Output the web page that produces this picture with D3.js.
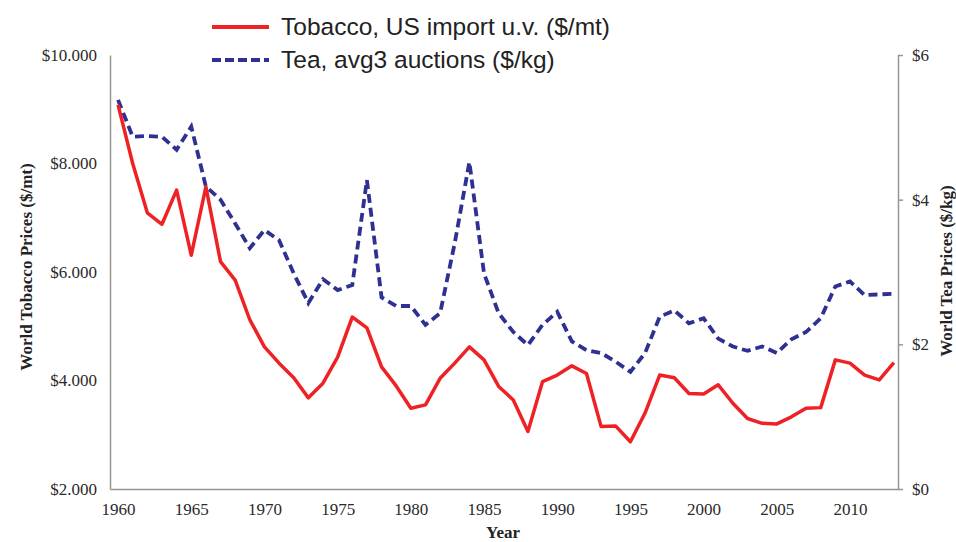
<!DOCTYPE html>
<html lang="en">
<head>
<meta charset="UTF-8">
<title>World Tobacco and Tea Prices</title>
<style>
  body { margin: 0; background: #fff; }
  .axis text { font-family: "Liberation Serif", "Times New Roman", serif; font-size: 17px; fill: #2a2a2a; }
  .axis path, .axis line { stroke: #9b9591; stroke-width: 1.5; fill: none; }
  .title { font-family: "Liberation Serif", "Times New Roman", serif; font-weight: bold; font-size: 17px; fill: #222; }
  .legend text { font-family: "Liberation Sans", Arial, sans-serif; font-size: 24.5px; fill: #222; }
</style>
<script src="https://cdn.jsdelivr.net/npm/d3@7"></script>
</head>
<body>
<script>
// years 1960..2013
var years = d3.range(1960, 2014);

// Tobacco, US import unit value ($/mt)
var tobacco = [9080, 8000, 7090, 6880, 7510, 6310, 7570, 6190, 5850, 5120,
               4620, 4320, 4050, 3680, 3950, 4430, 5170, 4970, 4250, 3900,
               3490, 3550, 4040, 4320, 4620, 4380, 3890, 3640, 3060, 3980,
               4100, 4270, 4130, 3150, 3160, 2870, 3400, 4100, 4050, 3760,
               3750, 3920, 3580, 3300, 3210, 3200, 3330, 3490, 3500, 4380,
               4320, 4100, 4010, 4330];

// Tea, average of 3 auctions ($/kg)
var tea = [5.38, 4.87, 4.88, 4.87, 4.69, 5.01, 4.18, 4.00, 3.67, 3.33,
           3.58, 3.44, 2.98, 2.57, 2.90, 2.75, 2.82, 4.27, 2.65, 2.53,
           2.53, 2.27, 2.43, 3.40, 4.52, 2.98, 2.43, 2.17, 1.99, 2.27,
           2.45, 2.04, 1.92, 1.88, 1.76, 1.62, 1.88, 2.38, 2.47, 2.29,
           2.36, 2.08, 1.97, 1.91, 1.97, 1.88, 2.07, 2.17, 2.36, 2.80,
           2.87, 2.68, 2.69, 2.70];

var xTicks = [1960, 1965, 1970, 1975, 1980, 1985, 1990, 1995, 2000, 2005, 2010];
var leftTicks = [2000, 4000, 6000, 8000, 10000];
var rightTicks = [0, 2, 4, 6];
var seriesNames = ["Tobacco, US import u.v. ($/mt)", "Tea, avg3 auctions ($/kg)"];

var W = 956, H = 542;
var plot = {left: 110, right: 898, top: 55, bottom: 489};

var svg = d3.select("body").append("svg")
  .attr("width", W)
  .attr("height", H);

var x = d3.scaleLinear().domain([1959.45, 2013.28]).range([plot.left, plot.right]);
var yL = d3.scaleLinear().domain([2000, 10000]).range([plot.bottom, plot.top]);
var yR = d3.scaleLinear().domain([0, 6]).range([plot.bottom, plot.top]);

// axes
var fmtL = function(d) { return "$" + d3.format(",")(d).replace(",", "."); };

svg.append("g")
  .attr("class", "axis")
  .attr("transform", "translate(0," + plot.bottom + ")")
  .call(d3.axisBottom(x).tickValues(xTicks).tickFormat(d3.format("d")).tickSize(0).tickPadding(14));

svg.append("g")
  .attr("class", "axis")
  .attr("transform", "translate(" + plot.left + ",0)")
  .call(d3.axisLeft(yL).tickValues(leftTicks).tickFormat(fmtL).tickSize(0).tickPadding(13));

svg.append("g")
  .attr("class", "axis")
  .attr("transform", "translate(" + plot.right + ",0)")
  .call(d3.axisRight(yR).tickValues(rightTicks).tickFormat(function(d) { return "$" + d; }).tickSizeInner(5).tickSizeOuter(0).tickPadding(9));

// axis titles
svg.append("text")
  .attr("class", "title")
  .attr("text-anchor", "middle")
  .attr("x", 503).attr("y", 538)
  .text("Year");

svg.append("text")
  .attr("class", "title")
  .attr("text-anchor", "middle")
  .attr("transform", "translate(32,267) rotate(-90)")
  .text("World Tobacco Prices ($/mt)");

svg.append("text")
  .attr("class", "title")
  .attr("text-anchor", "middle")
  .attr("transform", "translate(952,271) rotate(-90)")
  .text("World Tea Prices ($/kg)");

// lines
var lineL = d3.line()
  .x(function(d, i) { return x(years[i]); })
  .y(function(d) { return yL(d); });

var lineR = d3.line()
  .x(function(d, i) { return x(years[i]); })
  .y(function(d) { return yR(d); });

svg.append("path")
  .datum(tea)
  .attr("fill", "none")
  .attr("stroke", "#2e3192")
  .attr("stroke-width", 3.8)
  .attr("stroke-dasharray", "9,5")
  .attr("d", lineR);

svg.append("path")
  .datum(tobacco)
  .attr("fill", "none")
  .attr("stroke", "#ee2224")
  .attr("stroke-width", 3.5)
  .attr("stroke-linejoin", "round")
  .attr("d", lineL);

// legend
var legend = svg.append("g").attr("class", "legend");
var legendStyles = [
  {color: "#ee2224", dash: null, y: 27},
  {color: "#2e3192", dash: "9,4", y: 60}
];
seriesNames.forEach(function(name, i) {
  var s = legendStyles[i];
  legend.append("line")
    .attr("x1", 212).attr("x2", 269)
    .attr("y1", s.y).attr("y2", s.y)
    .attr("stroke", s.color)
    .attr("stroke-width", 3.8)
    .attr("stroke-dasharray", s.dash);
  legend.append("text")
    .attr("x", 281).attr("y", s.y + 8)
    .text(name);
});
</script>
</body>
</html>
